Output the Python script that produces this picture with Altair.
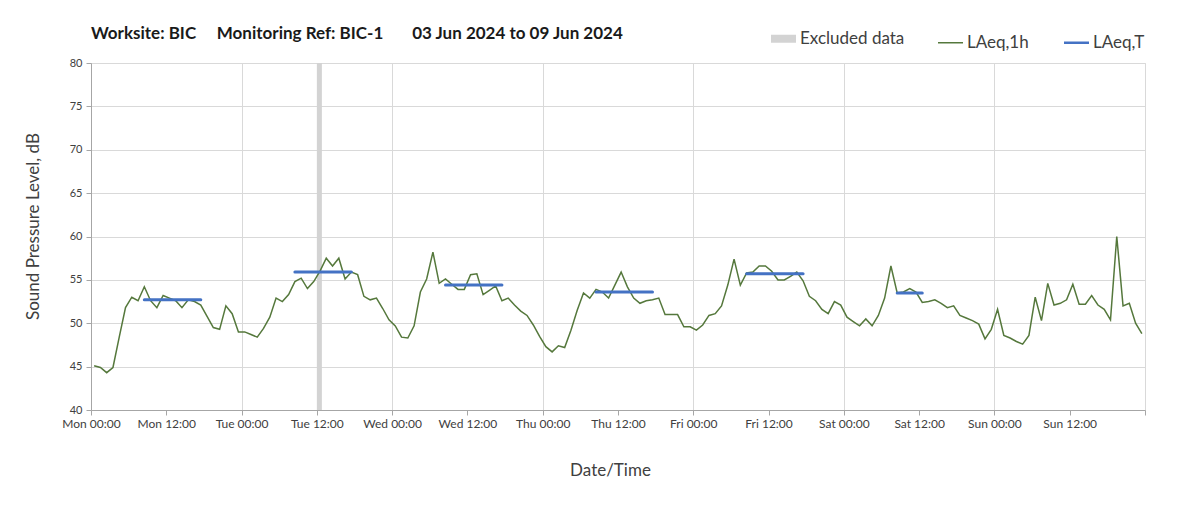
import altair as alt
import pandas as pd

# ---------------- data ----------------
series_names = ["Excluded data", "LAeq,1h", "LAeq,T"]
series_colors = ["#d3d3d3", "#55783c", "#4472c4"]

day_names = ["Mon", "Tue", "Wed", "Thu", "Fri", "Sat", "Sun"]
tick_hours = [0, 12, 24, 36, 48, 60, 72, 84, 96, 108, 120, 132, 144, 156, 168]
y_ticks = [40, 45, 50, 55, 60, 65, 70, 75, 80]

# hourly LAeq,1h, Mon 00:00 .. Sun 23:00 (168 hours)
laeq_1h = [
    45.1, 44.9, 44.3, 44.9, 48.4, 51.8, 53.0, 52.6, 54.2, 52.6, 51.8, 53.2,
    52.9, 52.6, 51.8, 52.7, 52.5, 52.1, 50.8, 49.5, 49.3, 52.0, 51.1, 49.0,
    49.0, 48.7, 48.4, 49.4, 50.7, 52.9, 52.5, 53.3, 54.8, 55.2, 54.0, 54.8,
    56.0, 57.5, 56.6, 57.5, 55.1, 55.9, 55.6, 53.1, 52.7, 52.9, 51.7, 50.4,
    49.7, 48.4, 48.3, 49.7, 53.6, 55.1, 58.2, 54.6, 55.1, 54.5, 53.9, 53.9,
    55.6, 55.7, 53.3, 53.8, 54.3, 52.6, 52.9, 52.1, 51.4, 50.9, 49.8, 48.5,
    47.3, 46.7, 47.4, 47.2, 49.2, 51.5, 53.5, 52.9, 53.9, 53.6, 52.9, 54.4,
    55.9, 54.2, 52.9, 52.3, 52.6, 52.7, 52.9, 51.0, 51.0, 51.0, 49.6, 49.6,
    49.2, 49.8, 50.9, 51.1, 52.0, 54.4, 57.4, 54.4, 55.8, 55.9, 56.6, 56.6,
    56.0, 55.0, 55.0, 55.4, 55.9, 54.9, 53.1, 52.6, 51.6, 51.1, 52.5, 52.1,
    50.7, 50.2, 49.7, 50.5, 49.7, 50.9, 52.9, 56.6, 53.5, 53.6, 54.0, 53.6,
    52.4, 52.5, 52.7, 52.3, 51.8, 52.0, 50.9, 50.6, 50.3, 49.9, 48.2, 49.3,
    51.6, 48.6, 48.3, 47.9, 47.6, 48.6, 53.0, 50.3, 54.6, 52.1, 52.3, 52.7,
    54.5, 52.2, 52.2, 53.2, 52.1, 51.6, 50.4, 60.0, 52.0, 52.3, 50.0, 48.8,
]
# hour-centred time stamps (hours since Mon 00:00)
hour_mid = [h + 0.5 for h in range(len(laeq_1h))]

# LAeq,T periods (daytime)
period_start = [8.5, 32.5, 56.5, 80.5, 104.5, 128.5]
period_end = [17.5, 41.5, 65.5, 89.5, 113.5, 132.5]
laeq_t = [52.7, 55.9, 54.4, 53.6, 55.7, 53.5]

# excluded data interval
excluded_start = [36.0]
excluded_end = [36.8]

# ---------------- tables ----------------
df_line = pd.DataFrame({"t": hour_mid, "level": laeq_1h, "series": "LAeq,1h"})
df_t = pd.DataFrame({"t0": period_start, "t1": period_end, "level": laeq_t, "series": "LAeq,T"})
df_ex = pd.DataFrame({"t0": excluded_start, "t1": excluded_end, "series": "Excluded data"})

FONT = "Lato"
TXT = "#404040"
AXC = "#a6a6a6"
W, H = 1054, 347

day_js = "['" + "','".join(day_names) + "']"
label_expr = (
    "datum.value >= 168 ? '' : " + day_js +
    "[floor(datum.value / 24)] + ' ' + (datum.value % 24 == 0 ? '00:00' : '12:00')"
)

x_scale = alt.Scale(domain=[0, 168], nice=False, zero=False)
y_scale = alt.Scale(domain=[40, 80], nice=False, zero=False)

x_axis = alt.Axis(
    values=tick_hours, labelExpr=label_expr, title="Date/Time",
    titleFont=FONT, titleFontSize=17, titleFontWeight="normal", titleColor=TXT,
    titlePadding=33, titleX=519, labelFont=FONT, labelFontSize=12, labelColor=TXT,
    labelPadding=3, tickSize=5, tickColor=AXC, domainColor=AXC,
    labelFlush=False, labelOverlap=False,
    gridColor="#d9d9d9",
    gridOpacity={"condition": {"test": "datum.value % 24 === 0", "value": 1}, "value": 0},
)
y_axis = alt.Axis(
    values=y_ticks, title="Sound Pressure Level, dB",
    titleFont=FONT, titleFontSize=17, titleFontWeight="normal", titleColor=TXT,
    titlePadding=27, titleY=163, labelFont=FONT, labelFontSize=11, labelColor=TXT,
    labelPadding=4, tickSize=5, tickColor=AXC, domainColor=AXC, gridColor="#d9d9d9",
)

legend = alt.Legend(
    title=None, orient="none", legendX=684, legendY=-33, direction="horizontal",
    symbolType="stroke", symbolSize=625,
    symbolStrokeWidth=alt.ExprRef(
        "datum.value === 'Excluded data' ? 8 : (datum.value === 'LAeq,T' ? 2.5 : 1.5)"
    ),
    symbolStrokeColor=alt.ExprRef("scale('color', datum.value)"),
    symbolFillColor="transparent",
    symbolOpacity=1,
    labelFont=FONT, labelFontSize=17, labelColor=TXT, labelOffset=8,
    columnPadding=30,
)
color = alt.Color(
    "series:N", scale=alt.Scale(domain=series_names, range=series_colors), legend=legend
)

excl = alt.Chart(df_ex).mark_rect(opacity=1).encode(
    x=alt.X("t0:Q", scale=x_scale, axis=x_axis),
    x2="t1:Q",
    y=alt.value(0),
    y2=alt.value(H),
    color=color,
)

line = alt.Chart(df_line).mark_line(strokeWidth=1.5).encode(
    x=alt.X("t:Q", scale=x_scale, axis=x_axis),
    y=alt.Y("level:Q", scale=y_scale, axis=y_axis),
    color=color,
)

lt = alt.Chart(df_t).mark_rule(strokeWidth=3, strokeCap="round").encode(
    x=alt.X("t0:Q", scale=x_scale, axis=x_axis),
    x2="t1:Q",
    y=alt.Y("level:Q", scale=y_scale, axis=y_axis),
    color=color,
)

NB = "\u00a0"
title_text = "Worksite: BIC" + NB * 5 + "Monitoring Ref: BIC-1" + NB * 7 + "03 Jun 2024 to 09 Jun 2024"

chart = alt.layer(excl, line, lt).properties(
    width=W, height=H,
    autosize=alt.AutoSizeParams(type="none"),
    padding={"left": 83, "top": 55, "right": 48, "bottom": 85},
    title=alt.TitleParams(
        title_text,
        anchor="start", frame="group", font=FONT, fontSize=17, fontWeight="bold",
        color="#1a1a1a", offset=0, dy=13,
    ),
).configure_view(stroke=AXC, strokeWidth=1).configure(background="white")

chart.save("out.html", embed_options={"renderer": "svg", "actions": False})
